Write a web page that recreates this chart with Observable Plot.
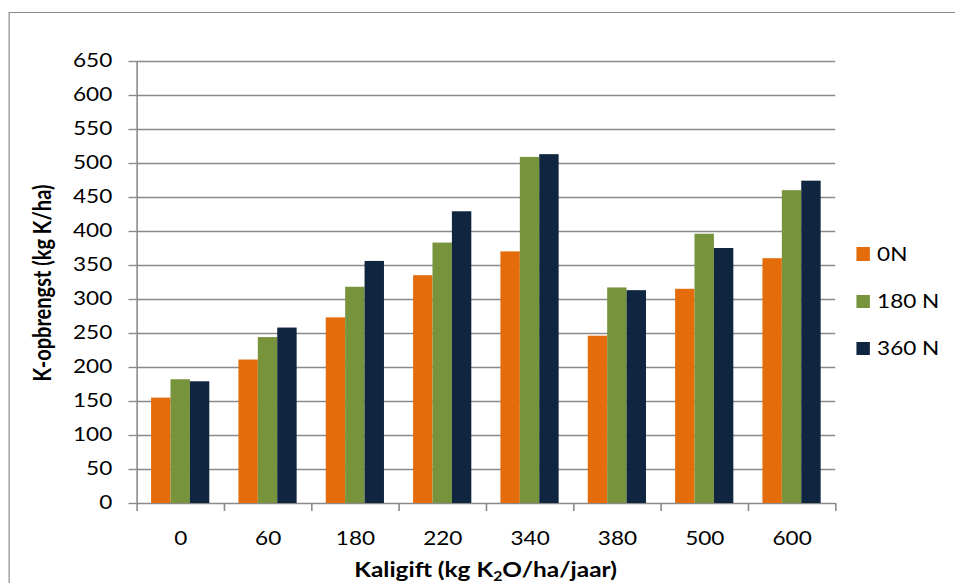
<!DOCTYPE html>
<html>
<head>
<meta charset="utf-8">
<script src="https://cdn.jsdelivr.net/npm/d3@7"></script>
<script src="https://cdn.jsdelivr.net/npm/@observablehq/plot@0.6"></script>
<style>
  html, body { margin: 0; padding: 0; background: #fff; overflow: hidden; width: 955px; height: 583px; }
  /* the chart is laid out narrower and widened horizontally as a whole */
  #wrap { position: relative; width: 783px; height: 583px; transform: scaleX(1.22); transform-origin: 0 0; font-family: Lato, "Open Sans", sans-serif; color: #000; }
  #frame { position: absolute; left: 6.6px; top: 12px; width: 900px; height: 640px; border: 1.5px solid #8c8c8c; box-sizing: border-box; }
  #chart { position: absolute; left: 0; top: 0; }
  .ytitle { position: absolute; left: 34.4px; top: 283px; transform: translate(-50%, -50%) rotate(-90deg); font-weight: bold; font-size: 20px; white-space: nowrap; }
  .xtitle { position: absolute; left: 398px; top: 569px; transform: translate(-50%, -50%); font-weight: bold; font-size: 20px; white-space: nowrap; line-height: 1; }
  .xtitle sub { font-size: 13px; vertical-align: -4px; line-height: 0; }
  #legend { position: absolute; left: 701.6px; top: 0; font-size: 18.5px; }
  #legend .item { position: absolute; left: 0; display: flex; align-items: center; height: 24px; white-space: nowrap; }
  #legend .sw { width: 11.5px; height: 13.3px; margin-right: 5.8px; }
</style>
</head>
<body>
<div id="wrap">
  <div id="frame"></div>
  <div id="chart"></div>
  <div class="ytitle">K-opbrengst (kg K/ha)</div>
  <div class="xtitle">Kaligift (kg K<sub>2</sub>O/ha/jaar)</div>
  <div id="legend"></div>
</div>
<script>
// Kaligift levels (kg K2O/ha/jaar)
const categories = ["0", "60", "180", "220", "340", "380", "500", "600"];
// nitrogen treatments
const series = ["0N", "180 N", "360 N"];
// K-opbrengst (kg K/ha) per treatment
const values0N   = [155, 211, 273, 335, 370, 246, 315, 360];
const values180N = [182, 244, 318, 383, 509, 317, 396, 460];
const values360N = [179, 258, 356, 429, 513, 313, 375, 474];
const colors = ["#E46C0A", "#77933C", "#10253F"];
const yTicks = d3.range(0, 651, 50);

const seriesValues = [values0N, values180N, values360N];
const rows = [];
categories.forEach((c, i) => {
  seriesValues.forEach((vals, s) => {
    rows.push({index: i, category: c, series: series[s], s, value: vals[i]});
  });
});

// clustered bars: each category occupies one unit, gap width = 1.5 bar widths
const barW = 1 / 4.5;
const gap = 1.5 * barW;
const axisGray = "#8a8a8a";

const chart = Plot.plot({
  width: 783,
  height: 583,
  marginLeft: 111.9,
  marginRight: 98.4,
  marginTop: 61,
  marginBottom: 80,
  style: {fontFamily: "Lato, 'Open Sans', sans-serif", fontSize: "18.5px", color: "#000", background: "transparent", overflow: "visible"},
  x: {type: "linear", domain: [0, categories.length], axis: null},
  y: {domain: [0, 650], axis: null},
  color: {domain: series, range: colors},
  marks: [
    Plot.ruleY(yTicks, {stroke: axisGray, strokeWidth: 1.4}),
    Plot.rectY(rows, {
      x1: d => d.index + gap / 2 + d.s * barW,
      x2: d => d.index + gap / 2 + (d.s + 1) * barW,
      y: "value",
      fill: "series"
    }),
    Plot.ruleX([0], {stroke: axisGray, strokeWidth: 1.3}),
    Plot.axisY({ticks: yTicks, tickSize: 6.6, tickPadding: 13.8, stroke: axisGray, strokeWidth: 1.4, label: null, fontSize: 18.5}),
    Plot.axisX({ticks: d3.range(categories.length + 1), tickSize: 8, tickFormat: () => "", stroke: axisGray, strokeWidth: 1.3, label: null}),
    Plot.axisX({ticks: d3.range(categories.length).map(i => i + 0.5), tickSize: 0, tickPadding: 28, tickFormat: t => categories[Math.floor(t)], label: null, fontSize: 18.5})
  ]
});
document.getElementById("chart").appendChild(chart);

// legend entries centred at 254, 301 and 348 px
const legend = document.getElementById("legend");
series.forEach((name, i) => {
  const item = document.createElement("div");
  item.className = "item";
  item.style.top = (254 + i * 47.2 - 12) + "px";
  item.innerHTML = `<span class="sw" style="background:${colors[i]}"></span><span>${name}</span>`;
  legend.appendChild(item);
});
</script>
</body>
</html>
